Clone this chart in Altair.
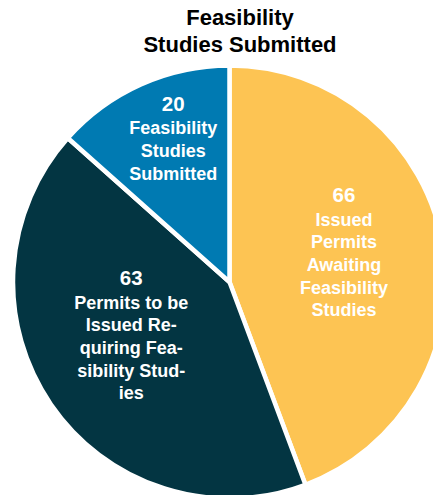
import altair as alt

# ---- data ----
categories = [
    "Issued Permits Awaiting Feasibility Studies",
    "Permits to be Issued Requiring Feasibility Studies",
    "Feasibility Studies Submitted",
]
values = [66, 63, 20]
numbers = ["66", "63", "20"]
label_lines = [
    ["Issued", "Permits", "Awaiting", "Feasibility", "Studies"],
    ["Permits to be", "Issued Re-", "quiring Fea-", "sibility Stud-", "ies"],
    ["Feasibility", "Studies", "Submitted"],
]
title_lines = ["Feasibility", "Studies Submitted"]
colors = ["#FDC453", "#033542", "#007AB2"]

rows = [
    {"idx": i, "category": c, "value": v, "num": n, "lines": l}
    for i, (c, v, n, l) in enumerate(zip(categories, values, numbers, label_lines))
]
data = alt.Data(values=rows)

W, H = 425, 487
CX, CY, R = 221.5, 274, 216.5
FONT = "Liberation Sans"

pie = alt.Chart(data).mark_arc(
    radius=R, stroke="white", strokeWidth=4.5
).encode(
    theta=alt.Theta("value:Q", stack=True),
    color=alt.Color("category:N", scale=alt.Scale(domain=categories, range=colors), legend=None),
    order=alt.Order("idx:Q"),
    x=alt.value(CX),
    y=alt.value(CY),
)

# label placement (block centre) relative to each slice's mid angle
adj_deg = "[-4.5, 6.2, 2.8]"
rad = "[118.4, 111.5, 154.7]"

base = (
    alt.Chart(data)
    .transform_window(cum="sum(value)", sort=[alt.SortField("idx")], frame=[None, 0])
    .transform_joinaggregate(total="sum(value)")
    .transform_calculate(
        mid=f"2*PI*(datum.cum - datum.value/2)/datum.total + {adj_deg}[datum.idx]*PI/180",
        r=f"{rad}[datum.idx]",
    )
    .transform_calculate(
        bx=f"{CX} + datum.r*sin(datum.mid)",
        by=f"{CY + 1} - datum.r*cos(datum.mid)",
        half="(13 + 23.5 + (length(datum.lines)-1)*22.7)/2",
    )
    .transform_calculate(
        ny="datum.by - datum.half + 13",
    )
    .transform_calculate(ty="datum.ny + 23.5")
)

num_text = base.mark_text(
    font=FONT, fontWeight="bold", fontSize=20.5, color="white", align="center", baseline="alphabetic"
).encode(
    x=alt.X("bx:Q", scale=None),
    y=alt.Y("ny:Q", scale=None),
    text=alt.Text("num:N"),
)

line_text = base.mark_text(
    font=FONT, fontWeight="bold", fontSize=18, color="white", align="center",
    baseline="alphabetic", lineHeight=22.7,
).encode(
    x=alt.X("bx:Q", scale=None),
    y=alt.Y("ty:Q", scale=None),
    text=alt.Text("lines:N"),
)

title = alt.Chart(alt.Data(values=[{"t": title_lines}])).mark_text(
    font=FONT, fontWeight="bold", fontSize=22, color="black", align="center",
    baseline="alphabetic", lineHeight=27,
).encode(
    x=alt.value(232),
    y=alt.value(16.5),
    text=alt.Text("t:N"),
)

chart = (
    alt.layer(pie, num_text, line_text, title)
    .properties(width=W, height=H, padding=0, autosize=alt.AutoSizeParams(type="none"))
    .configure_view(stroke=None)
)

chart.save("out.html", embed_options={"renderer": "svg", "actions": False})
